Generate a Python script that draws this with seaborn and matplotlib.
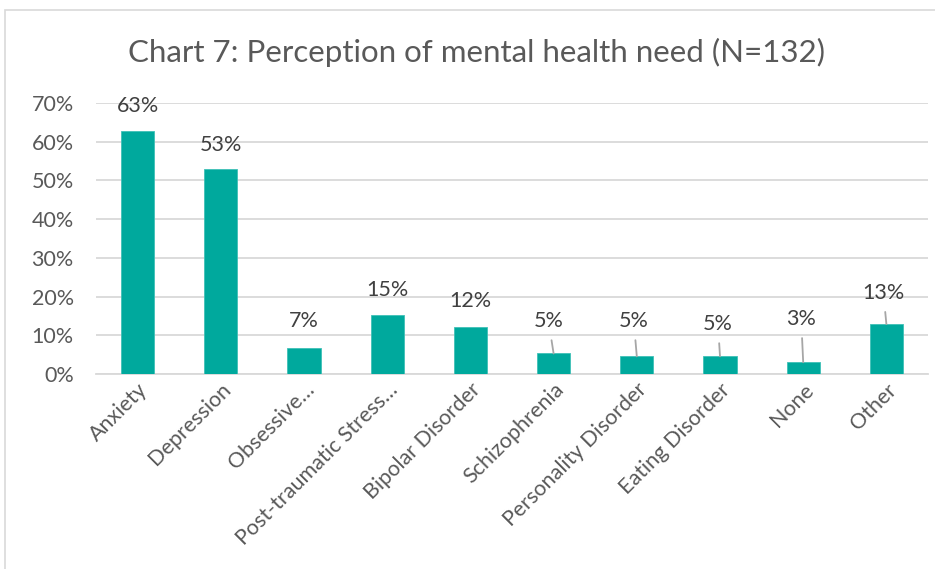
import matplotlib
matplotlib.use("Agg")
import matplotlib.pyplot as plt
import seaborn as sns
import pandas as pd
from matplotlib.patches import Rectangle

categories = ["Anxiety", "Depression", "Obsessive\u2026", "Post-traumatic Stress\u2026",
              "Bipolar Disorder", "Schizophrenia", "Personality Disorder",
              "Eating Disorder", "None", "Other"]
percent = [62.88, 53.03, 6.82, 15.15, 12.12, 5.30, 4.55, 4.55, 3.03, 12.88]
yticks = [0, 10, 20, 30, 40, 50, 60, 70]

# label offsets from bar top in pixels (dx, dy); leader line drawn when far away
label_offsets = [(0, 25), (0, 24), (0, 27), (0, 25), (0, 26),
                 (-5, 32), (-3, 35), (-2, 32), (-2, 43), (-3, 31)]
leader = [False, False, False, False, False, True, True, True, True, True]

sns.set_theme(style="white")
plt.rcParams["font.family"] = ["Lato", "DejaVu Sans"]

W, H = 935, 569
fig = plt.figure(figsize=(W / 100, H / 100), dpi=100)
ax = fig.add_axes([96 / W, 1 - 374 / H, (928 - 96) / W, (374 - 103) / H])

df = pd.DataFrame({"cat": categories, "pct": percent})
sns.barplot(data=df, x="cat", y="pct", ax=ax, color="#00A99D", width=0.4,
            saturation=1, edgecolor="#3fc0b7", linewidth=0.6, zorder=3)

ax.set_ylim(0, 70)
ax.set_xlim(-0.5, len(categories) - 0.5)
ax.set_yticks(yticks)
ax.set_yticklabels([f"{t}%" for t in yticks], fontsize=15.5, color="#595959")
ax.yaxis.grid(True, color="#d9d9d9", linewidth=1.3, zorder=0)
ax.set_axisbelow(True)
for s in ["top", "right", "left"]:
    ax.spines[s].set_visible(False)
ax.spines["bottom"].set_color("#d9d9d9")
ax.spines["bottom"].set_linewidth(1.3)
ax.tick_params(axis="y", length=0, pad=16)
ax.tick_params(axis="x", length=0, pad=4)
ax.set_xlabel("")
ax.set_ylabel("")
ax.set_xticks(range(len(categories)))
ax.set_xticklabels(categories, rotation=45, ha="right", rotation_mode="anchor",
                   fontsize=15.5, color="#595959")

px = 0.72  # points per pixel at 100 dpi
for i, (v, (dx, dy), ld) in enumerate(zip(percent, label_offsets, leader)):
    kw = {}
    if ld:
        kw["arrowprops"] = dict(arrowstyle="-", color="#a6a6a6", lw=1.3,
                                shrinkA=4, shrinkB=0)
    ax.annotate(f"{v:.0f}%", xy=(i, v), xytext=(dx * px, dy * px),
                textcoords="offset points", ha="center", va="center",
                fontsize=15.5, color="#404040", **kw)

fig.text(477 / W, 1 - 52 / H, "Chart 7: Perception of mental health need (N=132)",
         ha="center", va="center", fontsize=22.5, color="#595959")

fig.patches.append(Rectangle((5 / W, -0.1), 1.2, 1 - 10 / H + 0.1,
                             transform=fig.transFigure, fill=False,
                             edgecolor="#d9d9d9", linewidth=1.2))

fig.savefig("out.png", dpi=100)
